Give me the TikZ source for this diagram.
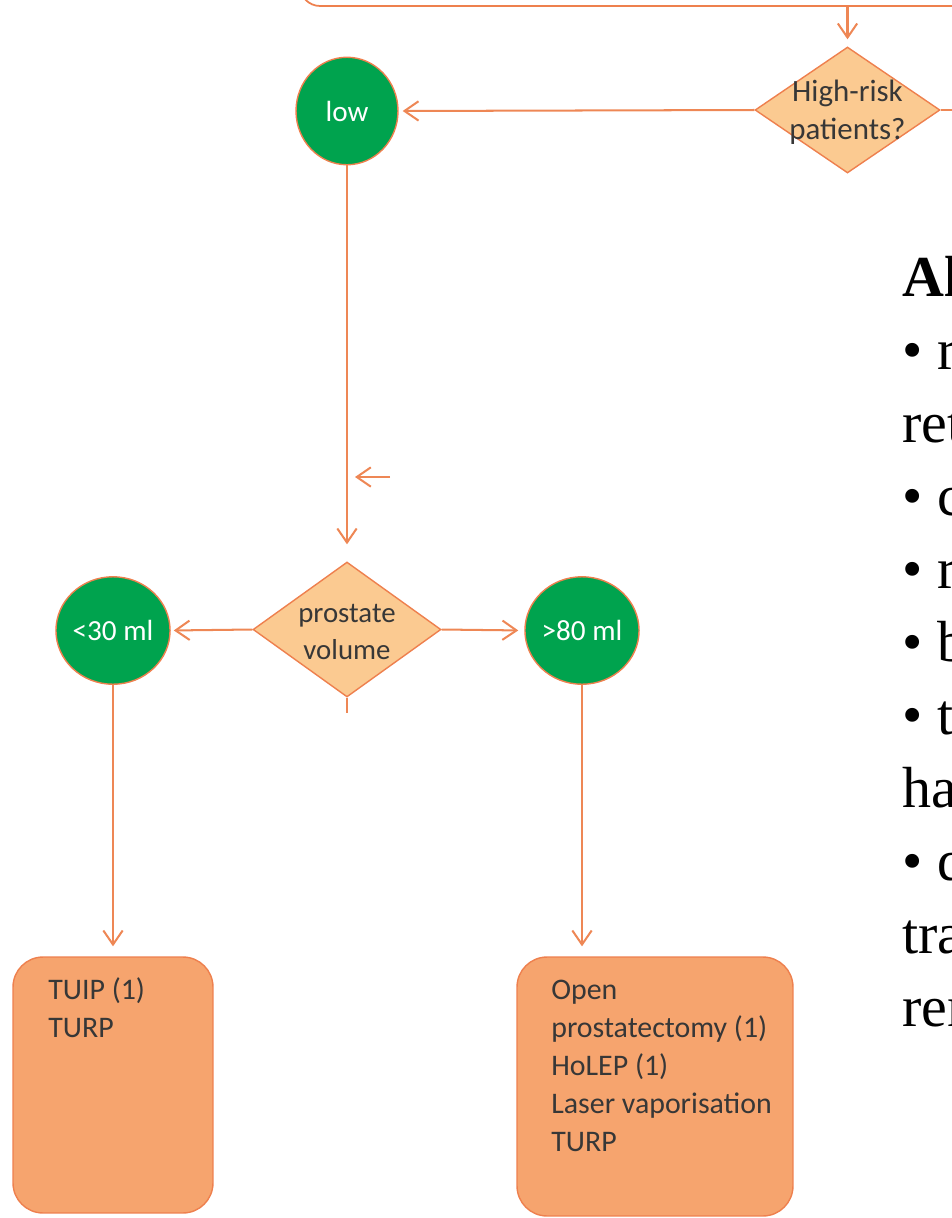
\documentclass[tikz,border=0pt]{standalone}
\usepackage{fontspec}
\setmainfont{Liberation Serif}
\newfontfamily\calfont{Carlito}
\usetikzlibrary{shapes.geometric,arrows.meta}
\definecolor{cgreen}{RGB}{0,163,78}
\definecolor{dfill}{RGB}{251,202,145}
\definecolor{lorange}{RGB}{238,135,85}
\definecolor{bfill}{RGB}{246,164,110}
\definecolor{bdraw}{RGB}{238,128,78}
\definecolor{tgray}{RGB}{55,55,55}
\tikzset{
  line/.style={draw=lorange, line width=1.15pt},
  arr/.style={line, -{Straight Barb[length=8pt,width=11pt,line width=1.15pt]}},
  dia/.style={diamond, draw=bdraw, fill=dfill, line width=0.8pt, inner sep=0pt},
  dtext/.style={font=\calfont\fontsize{16.4}{21}\selectfont, text=tgray, align=center, inner sep=0pt},
  circ/.style={ellipse, draw=bdraw, fill=cgreen, line width=0.8pt, inner sep=0pt,
    minimum width=2.04cm, minimum height=2.15cm, text=white,
    font=\calfont\fontsize{16.6}{20}\selectfont},
  tbox/.style={draw=bdraw, fill=bfill, line width=0.8pt, rounded corners=0.6cm, inner sep=0pt},
  btext/.style={font=\calfont\fontsize{17}{21.6}\selectfont, text=tgray, align=left, anchor=base west, inner sep=0pt},
  topbox/.style={draw=bdraw, fill=white, line width=1pt, rounded corners=0.4cm, inner sep=0pt},
  rt/.style={font=\fontsize{33}{41}\selectfont, anchor=base west, inner sep=0pt}
}
\begin{document}
\begin{tikzpicture}[x=0.02cm,y=-0.02cm]
\useasboundingbox (0,0) rectangle (952,1218);
\clip (0,0) rectangle (952,1218);
% top box (cut off)
\node[topbox, minimum width=14.2cm, minimum height=1.32cm] (top) at (655,-27) {};
% decision diamonds
\node[dia, minimum width=3.7cm, minimum height=2.52cm] (hr) at (847.5,110) {};
\node[dtext, font=\calfont\fontsize{17.6}{21.5}\selectfont] (hrt) at (847.5,112) {High-risk\\patients?};
\node[dia, minimum width=3.76cm, minimum height=2.7cm] (pv) at (347,629.5) {};
\node[dtext] (pvt) at (347,632) {prostate\\volume};
% circles
\node[circ] (low) at (347,111) {low};
\node[circ] (c30) at (113,630.5) {<30 ml};
\node[circ] (c80) at (582,630.5) {>80 ml};
% result boxes
\node[tbox, minimum width=4cm, minimum height=5.12cm] (tuip) at (113,1085) {};
\node[btext] (tuipt) at (48,1037) {TUIP (1)\\TURP};
\node[tbox, minimum width=5.52cm, minimum height=5.18cm] (open) at (655,1086.5) {};
\node[btext] (opent) at (551,1151) {Open\\prostatectomy (1)\\HoLEP (1)\\Laser vaporisation\\TURP};
% connectors
\draw[arr, shorten >=0.14cm] (top.south -| hr.north) -- (hr.north);
\draw[arr, shorten >=0.08cm] (hr.west) -- (low.east);
\coordinate (hrR) at (975,110);
\draw[line] (hr.east) -- (hrR);
\draw[arr, shorten >=0.34cm] (low.south) -- (pv.north);
\coordinate (sa1) at (390,477);
\coordinate (sa2) at (355,477);
\draw[arr] (sa1) -- (sa2);
\draw[arr, shorten >=0.06cm] (pv.west) -- (c30.east);
\draw[arr, shorten >=0.12cm] (pv.east) -- (c80.west);
\coordinate (stub) at (347,713);
\draw[line] (pv.south) -- (stub);
\draw[arr, shorten >=0.2cm] (c30.south) -- (tuip.north);
\draw[arr, shorten >=0.2cm] (c80.south) -- (c80.south |- open.north);
% right-hand text (cut off at the edge, as in the reference)
\node[rt, font=\bfseries\fontsize{33}{41}\selectfont] (r0) at (902,296) {Al};
\node[rt] (r1) at (902,369) {• r};
\node[rt] (r2) at (902,442) {ret};
\node[rt] (r3) at (902,515) {• c};
\node[rt] (r4) at (902,588) {• r};
\node[rt] (r5) at (902,661) {• b};
\node[rt] (r6) at (902,734) {• t};
\node[rt] (r7) at (902,807) {ha};
\node[rt] (r8) at (902,880) {• d};
\node[rt] (r9) at (902,953) {tra};
\node[rt] (r10) at (902,1026) {ren};
\end{tikzpicture}
\end{document}
